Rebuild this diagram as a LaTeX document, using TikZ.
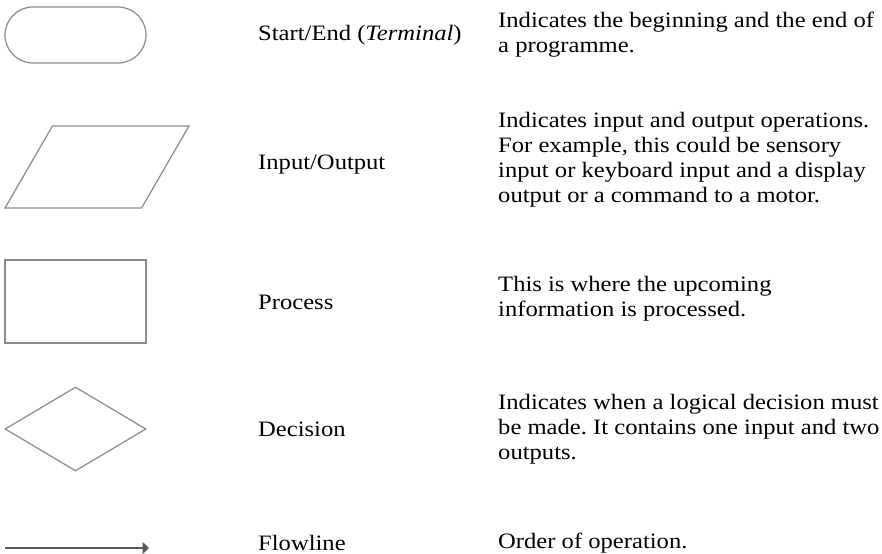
\documentclass[tikz,border=0pt]{standalone}
\usepackage{fontspec}
\setmainfont{Liberation Serif}[FakeStretch=1.12]
\usetikzlibrary{shapes.geometric, shapes.misc, arrows.meta, positioning}
\frenchspacing

\begin{document}
\begin{tikzpicture}[
    x=0.2mm, y=-0.2mm,
    symb/.style={draw=black!45, line width=0.7pt, inner sep=0pt},
    terminal/.style={symb, rounded rectangle, minimum width=28.2mm, minimum height=11.2mm},
    io/.style={symb, inner sep=2pt, trapezium, trapezium left angle=62, trapezium right angle=118, trapezium stretches=true, minimum width=36.8mm, minimum height=16.4mm},
    process/.style={symb, rectangle, minimum width=28.2mm, minimum height=16.6mm},
    decision/.style={symb, diamond, minimum width=28.2mm, minimum height=16.8mm},
    flow/.style={draw=black!65, line width=0.9pt, -{Triangle[length=1.3mm, width=2.4mm]}},
    symname/.style={anchor=west, font=\fontsize{12.5}{14.2}\selectfont},
    syminfo/.style={anchor=west, align=left, font=\fontsize{12.5}{14.2}\selectfont}
]
    \useasboundingbox (0,0) rectangle (882,554);

    % Terminal
    \node[terminal] (term) at (75.5,35) {};
    \node[symname] (termname) at (252,35) {Start/End (\textit{Terminal})};
    \node[syminfo] (terminfo) at (492,35) {Indicates the beginning and the end of\\a programme.};

    % Input/Output
    \node[io] (inout) at (97,167) {};
    \node[symname] (inoutname) at (252,165) {Input/Output};
    \node[syminfo] (inoutinfo) at (492,160) {Indicates input and output operations.\\For example, this could be sensory\\input or keyboard input and a display\\output or a command to a motor.};

    % Process
    \node[process] (proc) at (75.5,301.5) {};
    \node[symname] (procname) at (252,302) {Process};
    \node[syminfo] (procinfo) at (492,299) {This is where the upcoming\\information is processed.};

    % Decision
    \node[decision] (dec) at (75.5,429) {};
    \node[symname] (decname) at (252,429) {Decision};
    \node[syminfo] (decinfo) at (492,429) {Indicates when a logical decision must\\be made. It contains one input and two\\outputs.};

    % Flowline
    \coordinate (flowstart) at (5,548);
    \coordinate (flowend) at (149,548);
    \draw[flow] (flowstart) -- (flowend);
    \node[symname] (flowname) at (252,543) {Flowline};
    \node[syminfo] (flowinfo) at (492,543) {Order of operation.};
\end{tikzpicture}
\end{document}
